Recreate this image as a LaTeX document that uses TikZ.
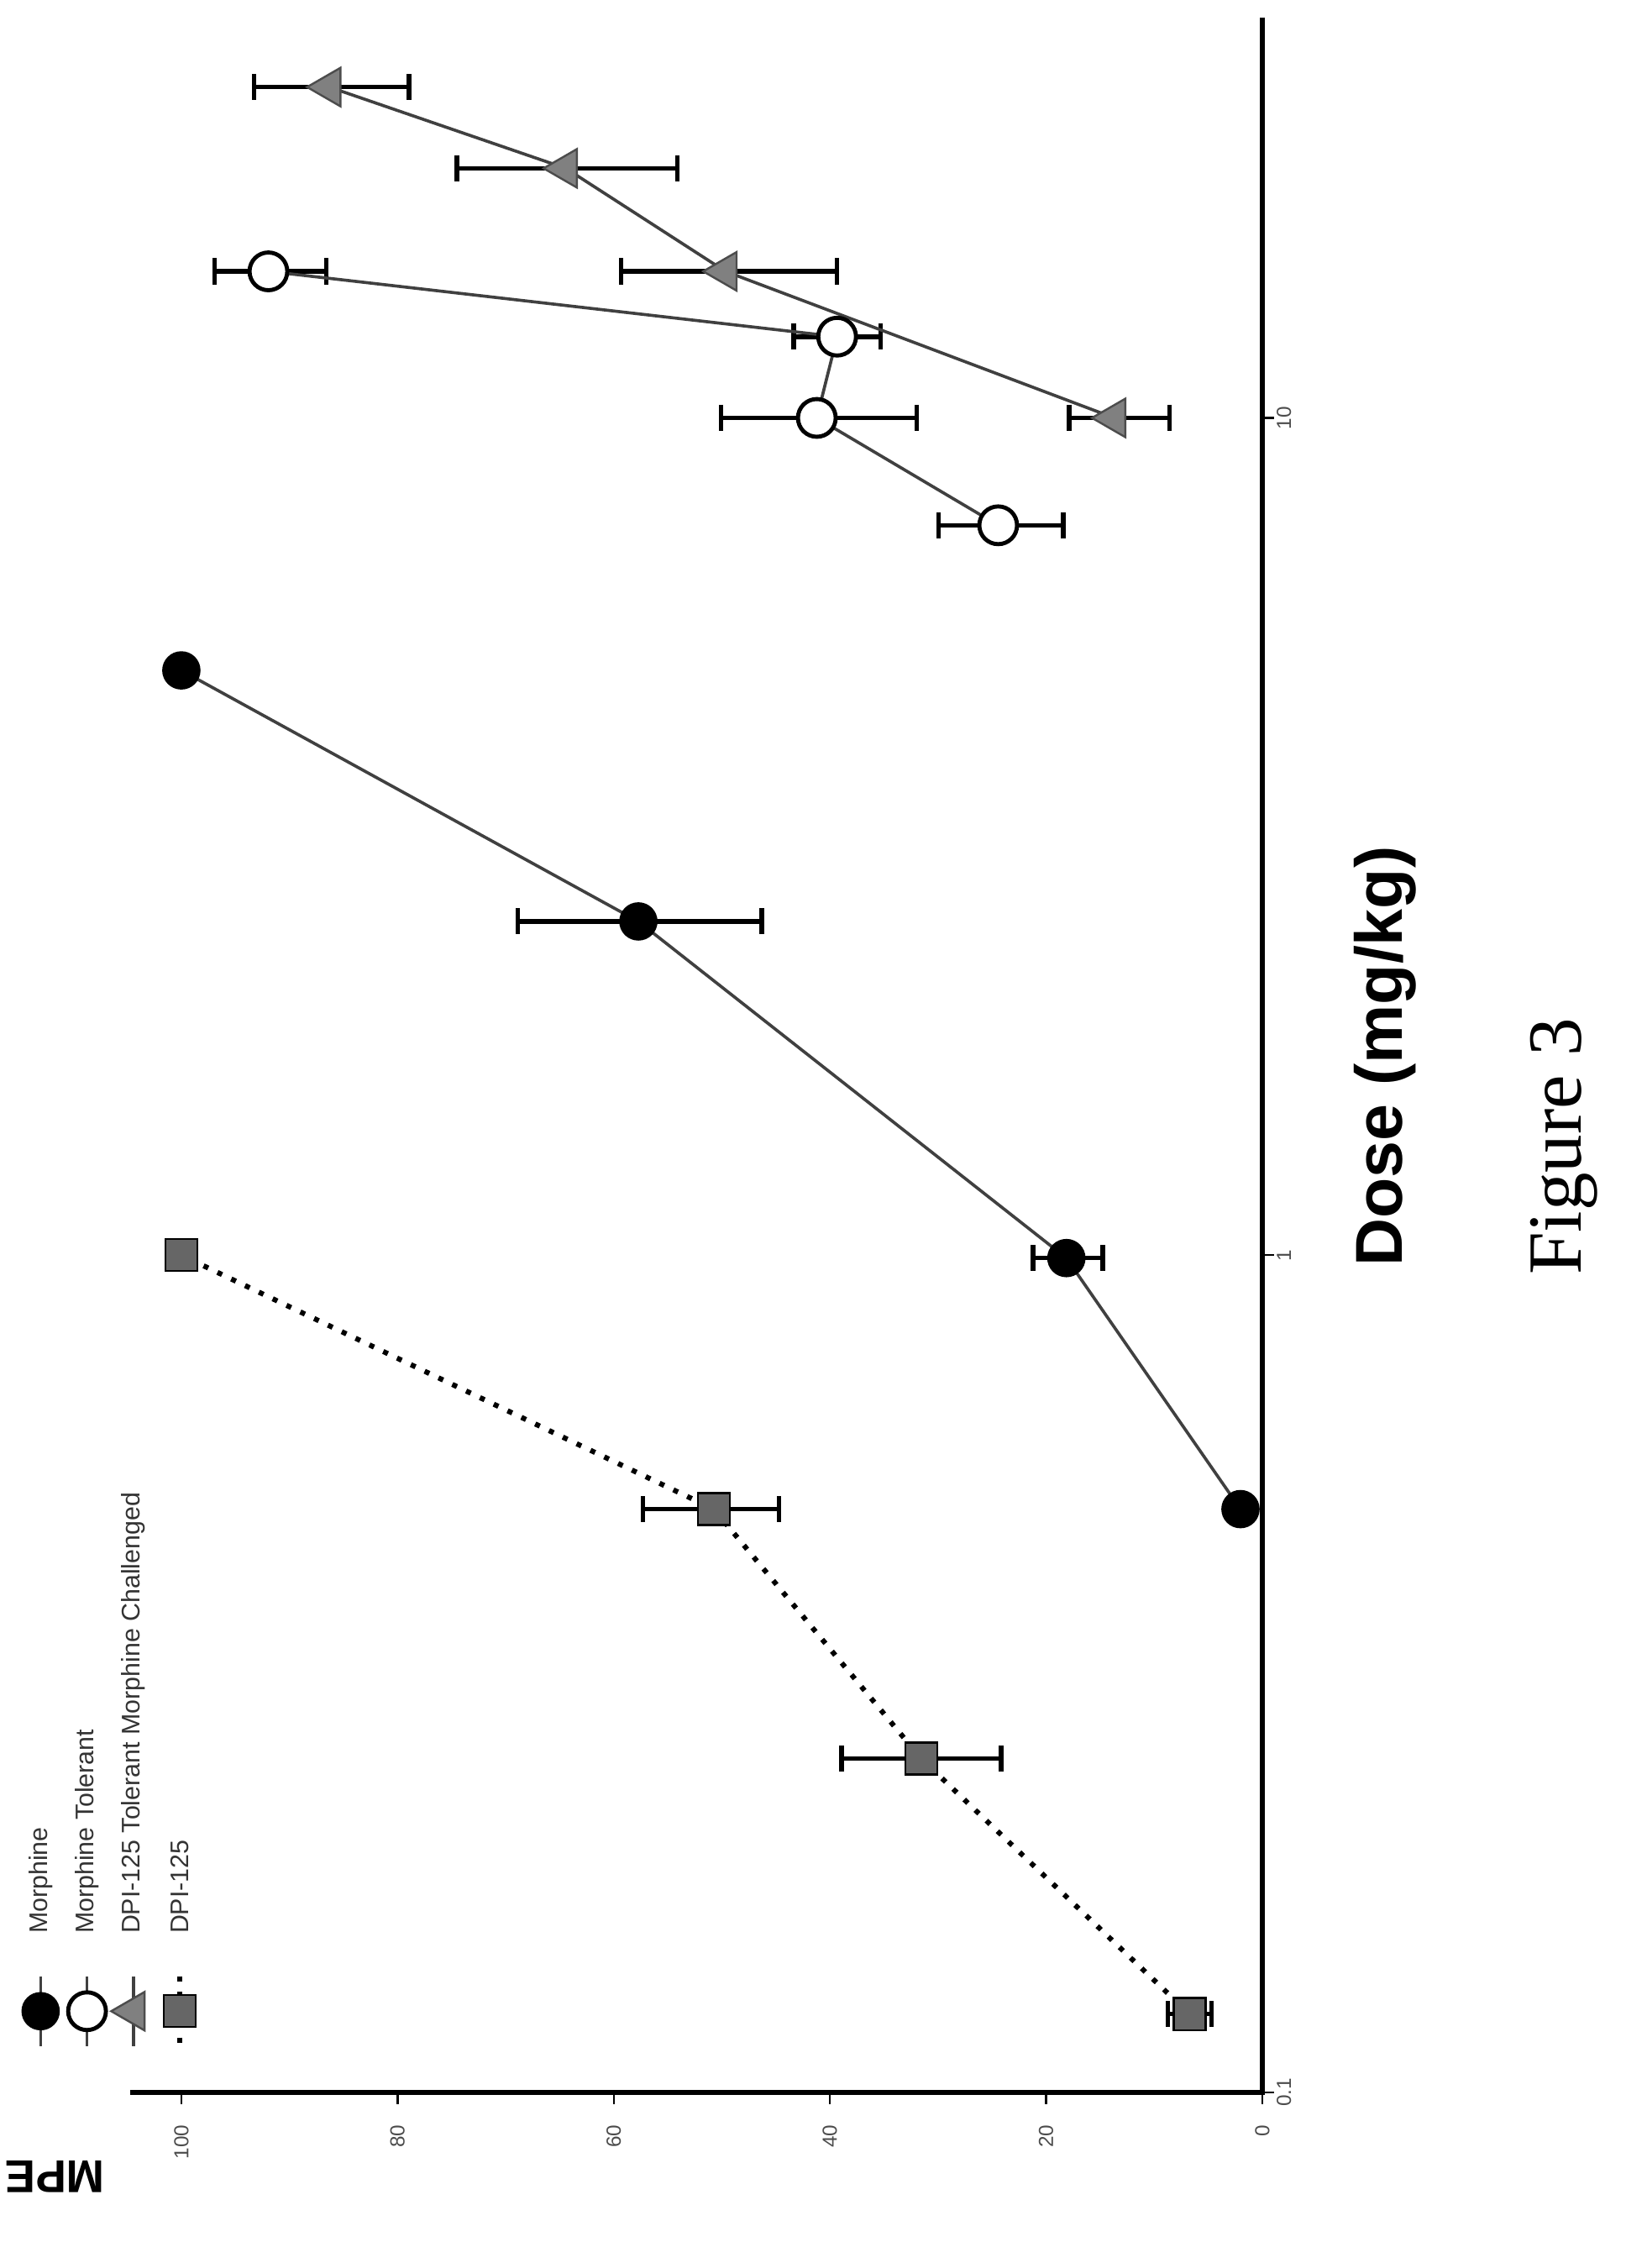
\documentclass[tikz,border=0pt]{standalone}
\usepackage{fontspec}
\setsansfont{Liberation Sans}
\setmainfont{Liberation Serif}
\usetikzlibrary{shapes.geometric}
\begin{document}
\begin{tikzpicture}[x=0.01cm,y=-0.01cm,
 ln/.style={line width=0.6pt,black!75},
 eb/.style={line width=0.9pt,black},
 fc/.style={circle,draw=black,fill=black,minimum size=0.25cm,inner sep=0},
 oc/.style={circle,draw=black,line width=0.8pt,fill=white,minimum size=0.26cm,inner sep=0},
 tr/.style={isosceles triangle,isosceles triangle apex angle=60,draw=black!70,fill=black!50,minimum size=0.23cm,inner sep=0,shape border rotate=180},
 sq/.style={rectangle,draw=black,fill=black!60,minimum size=0.22cm,inner sep=0},
 tl/.style={font=\sffamily\fontsize{4}{4}\selectfont,text=black!70}]
\useasboundingbox (0,0) rectangle (1135,1563);
% axes
\draw[line width=0.9pt] (870,12) -- (870,1442) -- (90,1442);
\foreach \y/\l in {1442/0.1,865/1,288/10}{\draw (870,\y)--(878,\y); \node[tl,rotate=90] at (885,\y){\l};}
\foreach \v in {0,20,40,60,80,100}{\pgfmathsetmacro\xx{870-7.45*\v}
 \draw (\xx,1442)--(\xx,1450); \node[tl,rotate=90,anchor=east] at (\xx,1452){\v};}
\node[font=\sffamily\bfseries\fontsize{9}{9}\selectfont,rotate=180] at (38,1500){MPE};
\node[font=\sffamily\bfseries\fontsize{13}{13}\selectfont,rotate=90] at (955,728){Dose (mg/kg)};
\node[font=\fontsize{15}{15}\selectfont,rotate=90] at (1078,790){Figure 3};
% error bars
\foreach \x/\a/\b/\y in {805/835/x/1388,580/690/x/1212,443/537/x/1040,712/760/x/867,357/525/x/635,647/733/x/362,497/632/x/288,547/607/x/232,148/225/x/187,737/806/x/288,428/577/x/187,315/467/x/116,175/282/x/60}{
 \draw[eb] (\x,\y)--(\a,\y) (\x,\y-9)--(\x,\y+9) (\a,\y-9)--(\a,\y+9);}
% lines
\draw[line width=1pt,dotted] (820,1388) -- (635,1212) -- (492,1040) -- (125,865);
\draw[ln] (855,1040)--(735,867)--(440,635)--(125,462);
\draw[ln] (688,362)--(563,288)--(577,232)--(185,187);
\draw[ln] (768,288)--(500,187)--(390,116)--(227,60);
% markers
\foreach \p [count=\i] in {(820,1388),(635,1212),(492,1040),(125,865)} \node[sq] (s\i) at \p {};
\foreach \p [count=\i] in {(855,1040),(735,867),(440,635),(125,462)} \node[fc] (m\i) at \p {};
\foreach \p [count=\i] in {(688,362),(563,288),(577,232),(185,187)} \node[oc] (o\i) at \p {};
\foreach \p [count=\i] in {(768,288),(500,187),(390,116),(227,60)} \node[tr] (t\i) at \p {};
% legend
\draw[ln] (28,1362)--(28,1410); \node[fc] (l1) at (28,1386){};
\draw[ln] (60,1362)--(60,1410); \node[oc] (l2) at (60,1386){};
\draw[ln] (92,1362)--(92,1410); \node[tr] (l3) at (92,1386){};
\draw[line width=1pt,dotted] (124,1362)--(124,1410); \node[sq] (l4) at (124,1386){};
\foreach \x/\t in {28/Morphine,60/Morphine Tolerant,92/DPI-125 Tolerant Morphine Challenged,124/DPI-125}
 \node[font=\sffamily\fontsize{5}{5}\selectfont,rotate=90,anchor=west,text=black!80] at (\x,1345){\t};
\end{tikzpicture}
\end{document}
